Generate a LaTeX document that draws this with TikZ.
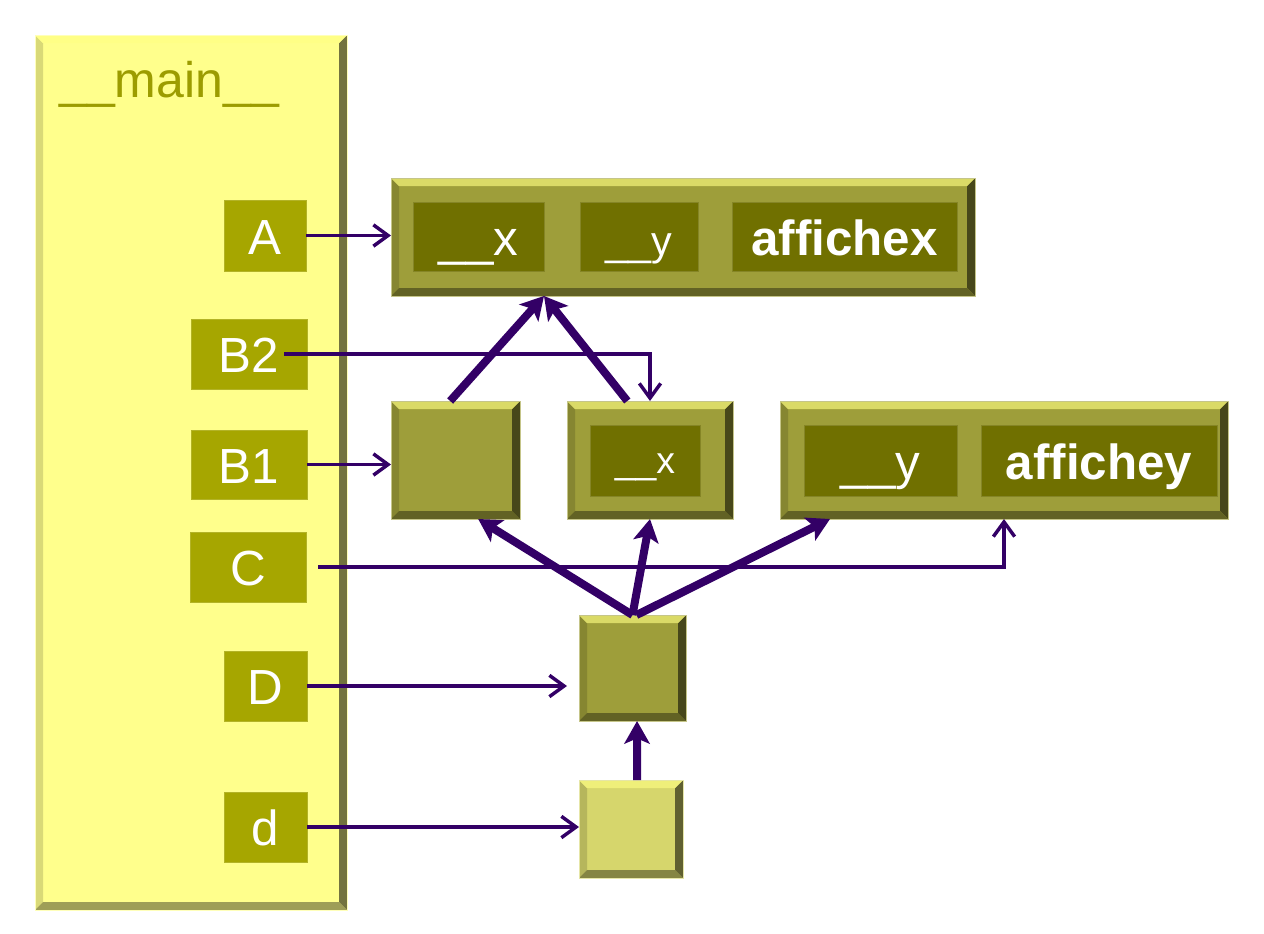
\documentclass[tikz,border=0pt]{standalone}
\usepackage{fontspec}
\setmainfont{Liberation Sans}
\usetikzlibrary{arrows.meta}
\definecolor{mainfill}{HTML}{FFFF8C}
\definecolor{maintxt}{HTML}{9C9C00}
\definecolor{labc}{HTML}{A6A600}
\definecolor{objc}{HTML}{9E9E3A}
\definecolor{cellc}{HTML}{707000}
\definecolor{dlight}{HTML}{D6D66C}
\definecolor{purp}{HTML}{330066}
\newlength\bv
\setlength\bv{6pt}
\tikzset{
  bevel/.style={path picture={
    \coordinate (bvA) at (path picture bounding box.north west);
    \coordinate (bvB) at (path picture bounding box.north east);
    \coordinate (bvC) at (path picture bounding box.south east);
    \coordinate (bvD) at (path picture bounding box.south west);
    \coordinate (bva) at ([xshift=\bv,yshift=-\bv]bvA);
    \coordinate (bvb) at ([xshift=-\bv,yshift=-\bv]bvB);
    \coordinate (bvc) at ([xshift=-\bv,yshift=\bv]bvC);
    \coordinate (bvd) at ([xshift=\bv,yshift=\bv]bvD);
    \fill[#1!85!black] (bvA) -- (bva) -- (bvd) -- (bvD) -- cycle;
    \fill[#1!45!black] (bvB) -- (bvb) -- (bvc) -- (bvC) -- cycle;
    \fill[#1!62!black] (bvD) -- (bvd) -- (bvc) -- (bvC) -- cycle;
    \fill[#1!55!white!70!yellow] (bvA) -- (bvB) -- (bvb) -- (bva) -- cycle;
  }},
  box/.style args={#1,#2,#3,#4}{minimum width=(#3-#1)*0.75pt, minimum height=(#4-#2)*0.75pt,
    at={({(#1+#3)/2},{(#2+#4)/2})}},
  bl/.style={text height=#1, text depth=0pt},
  bl/.default=27.8pt,
  objbox/.style={inner sep=0pt, outer sep=0pt, fill=#1, draw=#1!60!white, line width=0.6pt, bevel=#1},
  objbox/.default=objc,
  cellbox/.style={inner sep=0pt, outer sep=0pt, fill=cellc, draw=cellc!85!white, line width=0.5pt, text=white, bl},
  labbox/.style={inner sep=0pt, outer sep=0pt, fill=labc, draw=labc!85!white, line width=0.5pt, text=white, font=\fontsize{37}{40}\selectfont, bl},
  bigf/.style={font=\fontsize{37}{40}\selectfont},
  bigb/.style={font=\fontsize{37}{40}\selectfont\bfseries},
  ptr/.style={draw=purp, line width=2.6pt, -{Straight Barb[length=11pt,width=16pt,line width=2.6pt]}},
  fat/.style={draw=purp, line width=6pt, -{Stealth[length=17pt,width=19pt,inset=4pt]}}
}
\begin{document}
\begin{tikzpicture}[x=0.75pt,y=-0.75pt]
\useasboundingbox (0,0) rectangle (1264,933);
% main panel
\node[objbox=mainfill, box={35,35,347,910}] (main) {};
\node[text=maintxt, inner sep=0pt, anchor=base west, font=\fontsize{37.5}{40}\selectfont] (mainlbl) at (59,97) {\_\_main\_\_};
% labels
\node[labbox, box={224,200,306,271}] (A) {A};
\node[labbox, box={191,319,307,389}] (B2) {B2};
\node[labbox, box={191,430,307,499}] (B1) {B1};
\node[labbox, box={190,532,306,602}] (C) {C};
\node[labbox, box={224,651,307,721}] (D) {D};
\node[labbox, box={224,792,307,862}] (d) {d};
% top object
\node[objbox, box={391,178,975,296}] (top) {};
\node[cellbox, bigf, box={413,202,544,271}] (tx) {\_\_x};
\node[cellbox, font=\fontsize{31}{34}\selectfont, box={580,202,698,271}] (ty) {\_\_y};
\node[cellbox, bigb, box={732,202,957,271}] (tf) {affichex};
% middle row
\node[objbox, box={391,401,520,519}] (b1o) {};
\node[objbox, box={567,401,733,519}] (b2o) {};
\node[cellbox, font=\fontsize{28}{30}\selectfont, box={590,425,700,496}, bl=19pt] (mx) {\_\_x};
\node[objbox, box={780,401,1228,519}] (ro) {};
\node[cellbox, bigf, box={804,425,957,496}] (ry) {\_\_y};
\node[cellbox, bigb, box={981,425,1217,496}] (rf) {affichey};
% lower objects
\node[objbox, box={579,615,686,721}] (Do) {};
\node[objbox=dlight, box={579,780,683,878}] (dob) {};
% thin reference arrows
\draw[ptr] (A.east) -- (A.east -| top.west);
\draw[ptr] (B1.east) -- (B1.east -| b1o.west);
\coordinate (b2s) at ([xshift=-17pt]B2.east);
\draw[ptr] (b2s) -| (b2o.north);
\coordinate (cs) at ([xshift=9pt]C.east);
\draw[ptr] (cs) -| (ro.south);
\draw[ptr, shorten >=9pt] (D.east) -- (D.east -| Do.west);
\draw[ptr] (d.east) -- (d.east -| dob.west);
% thick arrows
\draw[fat] ([xshift=-4pt]b1o.north) -- (tx.east |- top.south);
\draw[fat] ([xshift=-17pt]b2o.north) -- (tx.east |- top.south);
\draw[fat] (Do.north) -- ([xshift=17pt]b1o.south);
\draw[fat] (Do.north) -- (b2o.south);
\draw[fat] ([xshift=3pt]Do.north) -- ([xshift=37.5pt]ro.south west);
\draw[fat] ([xshift=4.5pt]dob.north) -- ([xshift=3.4pt]Do.south);
\end{tikzpicture}
\end{document}
